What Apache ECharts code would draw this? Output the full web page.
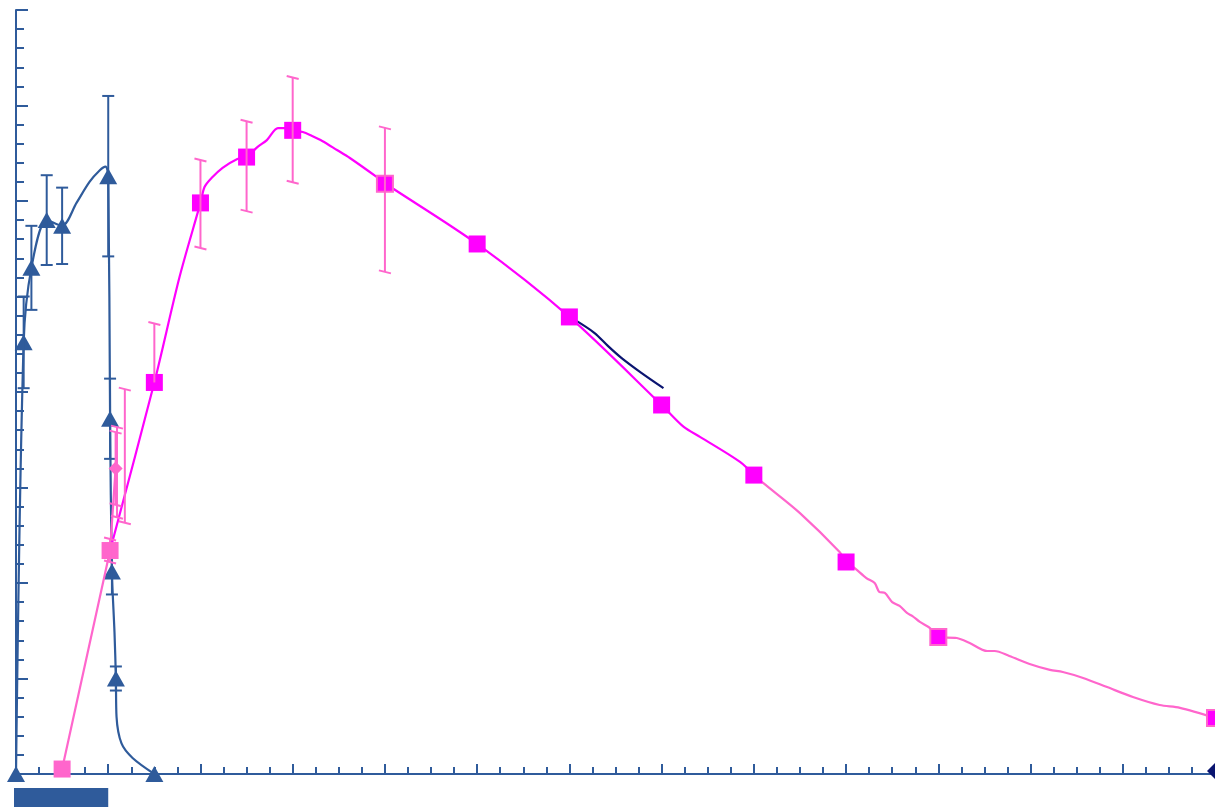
<!DOCTYPE html>
<html>
<head>
<meta charset="utf-8">
<script src="https://cdn.jsdelivr.net/npm/echarts@6/dist/echarts.min.js"></script>
<style>
  html, body { margin: 0; padding: 0; background: #ffffff; }
  #chart { width: 1215px; height: 809px; }
</style>
</head>
<body>
<div id="chart"></div>
<script>
// ---- colours ----
const BLUE = '#2F5B9B';
const MAGENTA = '#FF00FF';
const PINK = '#FF66CC';
const NAVY = '#0A1470';

// ---- parent drug (blue triangles): time (h), concentration, SD ----
const blueTime = [0, 0.083, 0.167, 0.333, 0.5, 1.0, 1.02, 1.04, 1.083, 1.5];
const blueConc = [0, 22.6, 26.5, 29.0, 28.7, 31.3, 18.6, 10.6, 5.0, 0];
const blueErr  = [0, 2.4, 2.2, 2.35, 2.0, 4.2, 2.1, 1.2, 0.63, 0];

// fitted curve through the parent drug profile
const blueCurveTime = [0, 0.083, 0.167, 0.333, 0.5, 0.656, 0.797, 0.906, 0.971, 1.0, 1.02, 1.04, 1.068, 1.083, 1.09, 1.144, 1.264, 1.5];
const blueCurveConc = [0, 22.6, 26.5, 29.0, 28.7, 29.9, 31.0, 31.6, 31.8, 31.3, 18.6, 10.6, 7.4, 5.0, 3.0, 1.6, 0.84, 0];

// ---- metabolite (pink squares): upper / lower error ----
const pinkTime    = [0.5, 1.02, 1.08, 1.5, 2, 2.5, 3, 4, 5, 6, 7, 8, 9, 10, 13];
const pinkConc    = [0.26, 11.7, 16.0, 20.5, 29.9, 32.3, 33.7, 30.9, 27.75, 23.93, 19.32, 15.65, 11.1, 7.17, 2.93];
const pinkErrUp   = [0, 0.6, 1.9, 3.09, 2.25, 1.88, 2.77, 2.93, 0, 0, 0, 0, 0, 0, 0];
const pinkErrDown = [0, 0.6, 1.9, 0, 2.36, 2.83, 2.72, 4.61, 0, 0, 0, 0, 0, 0, 0];

// extra replicate bars in the end-of-infusion cluster
const clusterTime = [1.095, 1.18];
const clusterConc = [15.8, 16.65];
const clusterErr  = [2.36, 3.5];

// metabolite curve, rising limb (light pink)
const pinkRiseTime = [0.5, 1.02, 1.08];
const pinkRiseConc = [0.26, 11.7, 16.0];

// metabolite curve, main section (magenta)
const pinkMainTime = [1.02, 1.5, 1.773, 2.0, 2.044, 2.12, 2.24, 2.40, 2.5, 2.62, 2.72, 2.84, 2.91, 3.0, 3.11, 3.21, 3.32, 3.48, 3.62, 3.91, 4.0, 5.0, 6.0, 7.0, 7.24, 7.42, 7.85, 8.0];
const pinkMainConc = [11.7, 20.5, 26.02, 29.9, 30.73, 31.2, 31.73, 32.2, 32.3, 32.83, 33.19, 33.82, 33.82, 33.69, 33.61, 33.4, 33.14, 32.67, 32.25, 31.26, 30.93, 27.75, 23.93, 19.32, 18.17, 17.64, 16.34, 15.65];

// metabolite curve, terminal phase (light pink)
const pinkTailTime = [8.0, 8.1, 8.5, 8.93, 9.0, 9.09, 9.22, 9.31, 9.36, 9.42, 9.5, 9.58, 9.66, 9.72, 9.8, 9.91, 10.0, 10.2, 10.34, 10.53, 10.61, 10.77, 10.99, 11.21, 11.35, 11.57, 11.83, 12.11, 12.4, 12.62, 13.0];
const pinkTailConc = [15.65, 15.24, 13.66, 11.62, 11.1, 10.79, 10.26, 10.0, 9.53, 9.48, 9.0, 8.8, 8.43, 8.27, 7.96, 7.64, 7.17, 7.12, 6.86, 6.44, 6.44, 6.18, 5.76, 5.45, 5.34, 5.03, 4.55, 4.03, 3.61, 3.46, 2.93];

// short model segment (navy)
const navyTime = [6.05, 6.27, 6.42, 6.56, 6.78, 7.02];
const navyConc = [23.8, 23.1, 22.4, 21.8, 21.0, 20.2];
const navyPointTime = [13];
const navyPointConc = [0.16];

// infusion period bar (start, end in h)
const infusion = [0, 1];

const zip = (a, b) => a.map((v, i) => [v, b[i]]);
const zip4 = (a, b, c, d) => a.map((v, i) => [v, b[i], c[i], d[i]]);

// vertical error bar with end caps; value = [x, y, up, down]
function errorBars(color, slant) {
  return function (params, api) {
    const x = api.value(0), y = api.value(1), up = api.value(2), down = api.value(3);
    if (!(up > 0) && !(down > 0)) return null;
    const top = api.coord([x, y + up]);
    const bot = api.coord([x, y - down]);
    const hw = 6;
    const st = { stroke: color, lineWidth: 2 };
    const children = [
      { type: 'line', shape: { x1: top[0], y1: top[1], x2: bot[0], y2: bot[1] }, style: st }
    ];
    if (up > 0) {
      children.push({ type: 'line', shape: { x1: top[0] - hw, y1: top[1] - slant, x2: top[0] + hw, y2: top[1] + slant }, style: st });
    }
    if (down > 0) {
      children.push({ type: 'line', shape: { x1: bot[0] - hw, y1: bot[1] - slant, x2: bot[0] + hw, y2: bot[1] + slant }, style: st });
    }
    return { type: 'group', children: children };
  };
}

// per-point styling of metabolite markers
const pinkPoints = pinkTime.map((t, i) => {
  const item = { value: [t, pinkConc[i]] };
  if (t === 0.5 || t === 1.02) {
    item.itemStyle = { color: PINK };
  } else if (t === 1.08) {
    item.symbol = 'diamond';
    item.symbolSize = 14;
    item.itemStyle = { color: PINK };
  } else if (t === 4 || t === 10 || t === 13) {
    item.itemStyle = { color: MAGENTA, borderColor: PINK, borderWidth: 2 };
    item.symbolSize = 16;
  }
  return item;
});

const chart = echarts.init(document.getElementById('chart'), null, { renderer: 'canvas' });

const axisCommon = {
  type: 'value',
  axisLine: { show: true, onZero: false, lineStyle: { color: BLUE, width: 2 } },
  axisLabel: { show: false },
  splitLine: { show: false },
  minorSplitLine: { show: false }
};

chart.setOption({
  animation: false,
  backgroundColor: '#ffffff',
  grid: { left: 16, right: 0, top: 10, bottom: 35, containLabel: false },
  xAxis: Object.assign({}, axisCommon, {
    min: 0, max: 13, interval: 1,
    axisTick: { show: true, inside: true, length: 10, lineStyle: { color: BLUE, width: 2 } },
    minorTick: { show: true, splitNumber: 4, length: 7, lineStyle: { color: BLUE, width: 2 } }
  }),
  yAxis: Object.assign({}, axisCommon, {
    min: 0, max: 40, interval: 5,
    axisTick: { show: true, inside: true, length: 12, lineStyle: { color: BLUE, width: 2 } },
    minorTick: { show: true, splitNumber: 5, length: 8, lineStyle: { color: BLUE, width: 2 } }
  }),
  series: [
    {
      // infusion period bar under the time axis
      type: 'custom',
      clip: false,
      data: [[infusion[0], 0, infusion[1]]],
      encode: { x: [0, 2], y: 1 },
      renderItem: function (params, api) {
        const a = api.coord([api.value(0), 0]);
        const b = api.coord([api.value(2), 0]);
        return {
          type: 'rect',
          shape: { x: a[0] - 2, y: a[1] + 14, width: b[0] - a[0] + 2, height: 19 },
          style: { fill: BLUE }
        };
      },
      z: 1
    },
    {
      type: 'line',
      data: zip(blueCurveTime, blueCurveConc),
      smooth: 0.3,
      showSymbol: false,
      lineStyle: { color: BLUE, width: 2.2 },
      z: 2
    },
    {
      type: 'scatter',
      data: zip(blueTime, blueConc),
      symbol: 'triangle',
      symbolSize: [18, 16],
      itemStyle: { color: BLUE, opacity: 1 },
      z: 3
    },
    {
      type: 'custom',
      data: zip4(blueTime, blueConc, blueErr, blueErr),
      renderItem: errorBars(BLUE, 0),
      clip: false,
      z: 4
    },
    {
      type: 'line',
      data: zip(navyTime, navyConc),
      smooth: 0.3,
      showSymbol: false,
      lineStyle: { color: NAVY, width: 2.2 },
      z: 5
    },
    {
      type: 'line',
      data: zip(pinkRiseTime, pinkRiseConc),
      showSymbol: false,
      lineStyle: { color: PINK, width: 2.2 },
      z: 6
    },
    {
      type: 'line',
      data: zip(pinkMainTime, pinkMainConc),
      smooth: 0.3,
      showSymbol: false,
      lineStyle: { color: MAGENTA, width: 2.2 },
      z: 6
    },
    {
      type: 'line',
      data: zip(pinkTailTime, pinkTailConc),
      smooth: 0.3,
      showSymbol: false,
      lineStyle: { color: PINK, width: 2.2 },
      z: 6
    },
    {
      type: 'scatter',
      data: pinkPoints,
      symbol: 'rect',
      symbolSize: 17,
      itemStyle: { color: MAGENTA, opacity: 1 },
      z: 7
    },
    {
      type: 'custom',
      data: zip4(pinkTime, pinkConc, pinkErrUp, pinkErrDown)
        .concat(zip4(clusterTime, clusterConc, clusterErr, clusterErr)),
      renderItem: errorBars(PINK, 1.5),
      clip: false,
      z: 8
    },
    {
      type: 'scatter',
      data: zip(navyPointTime, navyPointConc),
      symbol: 'diamond',
      symbolSize: 16,
      itemStyle: { color: NAVY, opacity: 1 },
      z: 9
    }
  ]
});
</script>
</body>
</html>
